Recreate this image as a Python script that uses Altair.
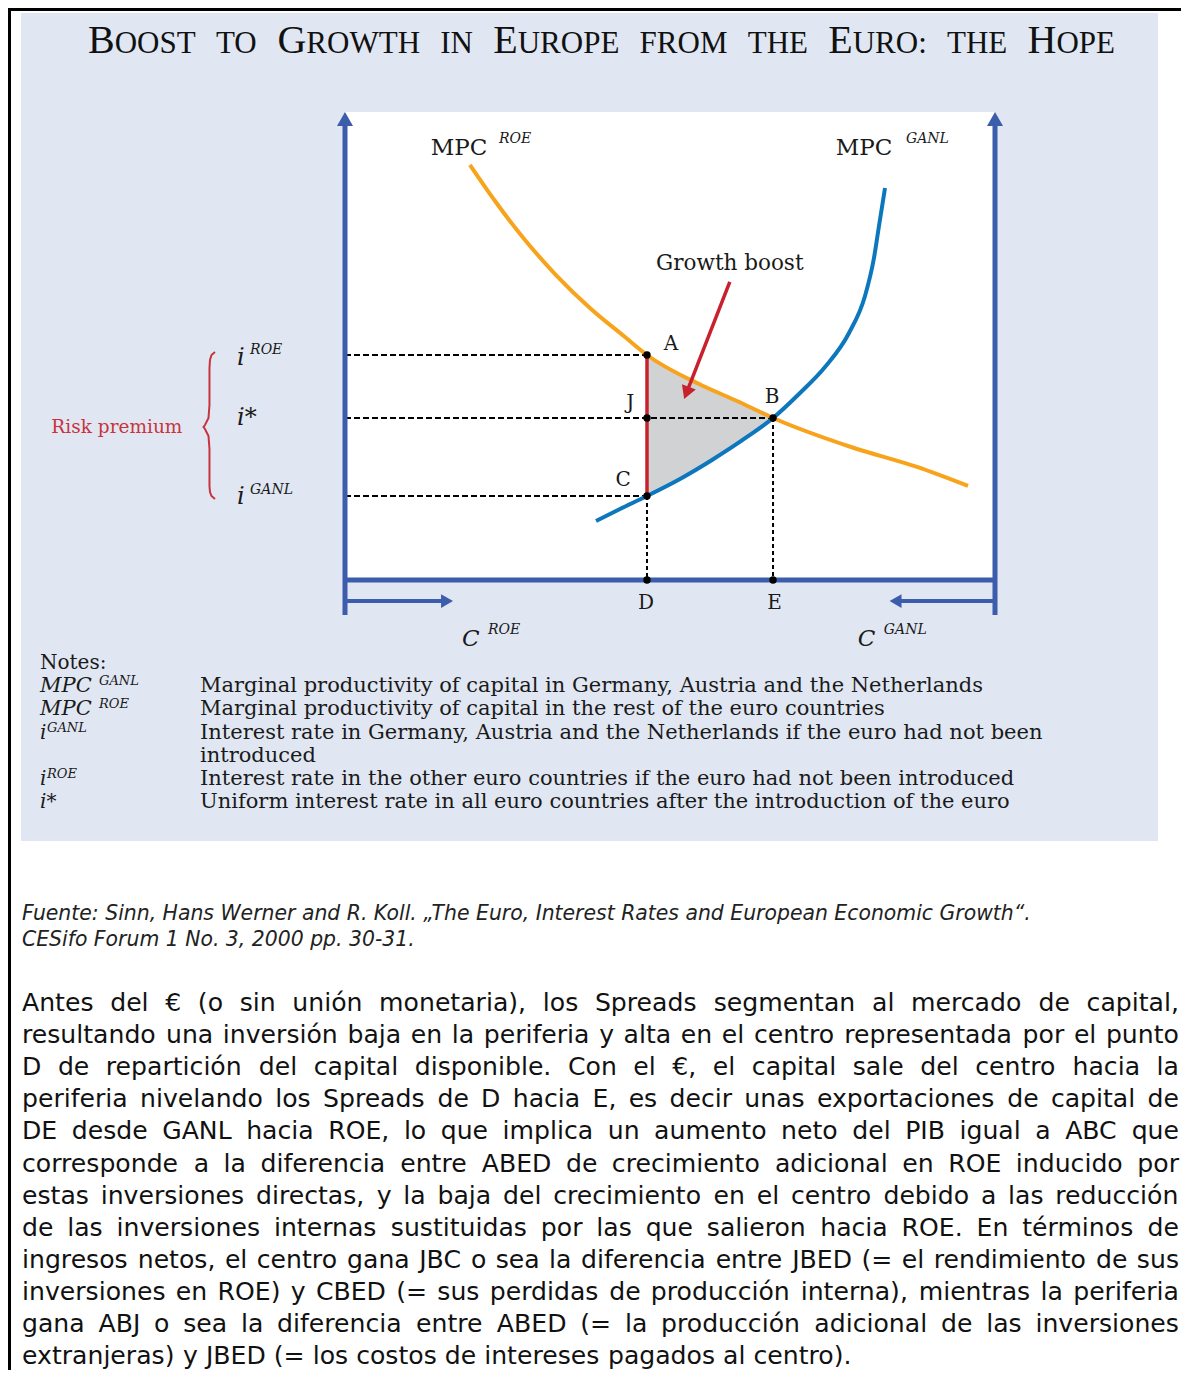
import unicodedata
import altair as alt
import pandas as pd

W, H = 1173, 1362
OX, OY = 8, 8  # page margin: reference pixel -> plot pixel

# ---------------- diagram values (diagram units: capital 0-100, interest 0-100) ----------------
mpc_roe_x = [19.23, 23.08, 27.69, 32.46, 37.85, 43.08, 46.46, 54.46, 60.31, 65.85, 77.85, 88.0, 95.85]
mpc_roe_y = [88.68, 80.98, 72.65, 65.17, 57.91, 51.92, 48.08, 41.88, 38.25, 34.62, 28.42, 24.15, 20.09]
mpc_ganl_x = [38.62, 42.31, 46.46, 51.54, 56.46, 61.85, 65.85, 70.0, 73.85, 77.54, 80.0, 81.38, 82.15, 83.08]
mpc_ganl_y = [12.61, 15.17, 17.95, 21.58, 25.64, 30.56, 34.62, 39.96, 45.51, 52.78, 60.68, 68.8, 75.64, 83.76]

i_roe, i_star, i_ganl = 48.08, 34.62, 17.95
c_d, c_e = 46.46, 65.85

point_names = ["A", "J", "B", "C", "D", "E"]
point_x = [c_d, c_d, c_e, c_d, c_d, c_e]
point_y = [i_roe, i_star, i_star, i_ganl, 0.0, 0.0]

boost_y = [17.95, 21.58, 25.64, 30.56, 34.62, 38.25, 41.88, 48.08]
boost_x = [46.46, 51.54, 56.46, 61.85, 65.85, 60.31, 54.46, 46.46]

arrow_x = [59.2, 52.54]
arrow_y = [63.7, 39.98]
arrow_angle = 201.3

brace_x = [-20.0, -20.54, -20.77, -20.85, -20.85, -21.0, -21.54, -21.77, -21.54, -21.0, -20.85, -20.85, -20.77, -20.54, -20.0]
brace_y = [48.72, 48.08, 47.01, 45.30, 37.39, 34.62, 33.12, 32.69, 32.26, 30.77, 27.99, 20.09, 18.80, 17.95, 17.31]

# labels inside diagram space
center_lbl = ["A", "J", "B", "C", "D", "E", "Growth boost"]
center_lbl_x = [50.15, 43.9, 65.7, 42.8, 46.3, 66.1, 59.2]
center_lbl_y = [50.43, 37.8, 39.1, 21.4, -4.9, -4.9, 67.5]
center_lbl_fs = [20, 20, 20, 20, 20, 20, 21.5]

mpc_lbl = ["MPC", "MPC"]
mpc_lbl_x = [13.2, 75.5]
mpc_lbl_y = [92.3, 92.3]

ital_lbl = ["ROE", "GANL", "C", "ROE", "C", "GANL", "i", "ROE", "i*", "i", "GANL"]
ital_lbl_x = [23.7, 86.3, 18.0, 22.0, 78.9, 82.9, -16.6, -14.6, -16.6, -16.6, -14.6]
ital_lbl_y = [94.3, 94.3, -12.6, -10.7, -12.6, -10.7, 47.4, 49.1, 34.6, 17.7, 19.2]
ital_lbl_fs = [14, 14, 23, 14, 23, 14, 24, 14, 24, 24, 14]

risk_lbl = ["Risk premium"]
risk_lbl_x = [-35.1]
risk_lbl_y = [32.7]

# ---------------- page texts ----------------
title_words = ["Boost", "to", "Growth", "in", "Europe", "from", "the", "Euro:", "the", "Hope"]

notes_head = "Notes:"
notes_sym = [("MPC", "GANL"), ("MPC", "ROE"), ("i", "GANL"), ("i", "ROE"), ("i*", "")]
notes_desc = [
    "Marginal productivity of capital in Germany, Austria and the Netherlands",
    "Marginal productivity of capital in the rest of the euro countries",
    "Interest rate in Germany, Austria and the Netherlands if the euro had not been",
    "introduced",
    "Interest rate in the other euro countries if the euro had not been introduced",
    "Uniform interest rate in all euro countries after the introduction of the euro",
]

source_lines = [
    "Fuente: Sinn, Hans Werner and R. Koll. \u201eThe Euro, Interest Rates and European Economic Growth\u201c.",
    "CESifo Forum 1 No. 3, 2000 pp. 30-31.",
]

paragraph = [
    "Antes del \u20ac (o sin unión monetaria), los Spreads segmentan al mercado de capital,",
    "resultando una inversión baja en la periferia y alta en el centro representada por el punto",
    "D de repartición del capital disponible. Con el \u20ac, el capital sale del centro hacia la",
    "periferia nivelando los Spreads de D hacia E, es decir unas exportaciones de capital de",
    "DE desde GANL hacia ROE, lo que implica un aumento neto del PIB igual a ABC que",
    "corresponde a la diferencia entre ABED de crecimiento adicional en ROE inducido por",
    "estas inversiones directas, y la baja del crecimiento en el centro debido a las reducción",
    "de las inversiones internas sustituidas por las que salieron hacia ROE. En términos de",
    "ingresos netos, el centro gana JBC o sea la diferencia entre JBED (= el rendimiento de sus",
    "inversiones en ROE) y CBED (= sus perdidas de producción interna), mientras la periferia",
    "gana ABJ o sea la diferencia entre ABED (= la producción adicional de las inversiones",
    "extranjeras) y JBED (= los costos de intereses pagados al centro).",
]

# ---------------- font metrics for layout ----------------
TNR = {'A': 722, 'B': 667, 'C': 667, 'D': 722, 'E': 611, 'F': 556, 'G': 722, 'H': 722, 'I': 333,
       'M': 889, 'N': 722, 'O': 722, 'P': 556, 'R': 667, 'S': 556, 'T': 611, 'U': 722, 'W': 944,
       ':': 278, ' ': 250}
DV = dict(zip("abcdefghijklmnopqrstuvwxyz",
              [1255, 1300, 1126, 1300, 1260, 721, 1300, 1298, 569, 569, 1186, 569, 1995, 1298, 1253,
               1300, 1300, 842, 1067, 803, 1298, 1212, 1675, 1212, 1212, 1075]))
DV.update(dict(zip("ABCDEFGHIJKLMNOPQRSTUVWXYZ",
                   [1401, 1405, 1430, 1577, 1294, 1178, 1587, 1540, 604, 604, 1343, 1141, 1767, 1532,
                    1612, 1235, 1612, 1423, 1300, 1251, 1499, 1401, 2025, 1403, 1251, 1403])))
DV.update({' ': 651, ',': 651, '.': 651, '(': 799, ')': 799, '=': 1716, '\u20ac': 1303, ':': 690,
           '-': 739, '\u201e': 844, '\u201c': 844})
for d in "0123456789":
    DV[d] = 1303


def dv_units(s):
    tot = 0
    for c in s:
        b = unicodedata.normalize("NFD", c)[0]
        tot += DV.get(c, DV.get(b, 1200))
    return tot


# ---------------- encodings ----------------
XS = alt.Scale(domain=[0, 100], range=[345 - OX, 995 - OX], nice=False, zero=False)
YS = alt.Scale(domain=[0, 100], range=[580 - OY, 112 - OY], nice=False, zero=False)


def gx(f="x"):
    return alt.X(f"{f}:Q", scale=XS, axis=None)


def gy(f="y"):
    return alt.Y(f"{f}:Q", scale=YS, axis=None)


def px(f="x"):
    return alt.X(f"{f}:Q", scale=None, axis=None)


def py(f="y"):
    return alt.Y(f"{f}:Q", scale=None, axis=None)


FS = alt.Size("fs:Q", scale=None, legend=None)


def text_layer(df, pixel, **mark):
    return alt.Chart(df).mark_text(**mark).encode(
        x=px() if pixel else gx(), y=py() if pixel else gy(), text="t:N", size=FS)


layers = []
one = pd.DataFrame({"k": [0]})

# page frame lines and figure panel
layers.append(alt.Chart(one).mark_rule(color="black", strokeWidth=3).encode(
    x=alt.value(0), x2=alt.value(W), y=alt.value(1.5)))
layers.append(alt.Chart(one).mark_rule(color="black", strokeWidth=3).encode(
    x=alt.value(1.5), y=alt.value(0), y2=alt.value(H)))
layers.append(alt.Chart(one).mark_rect(color="#e0e7f3").encode(
    x=alt.value(21 - OX), x2=alt.value(1158 - OX), y=alt.value(13 - OY), y2=alt.value(841 - OY)))

# white plot area
frame = pd.DataFrame({"x": [0], "x2": [100], "y": [0], "y2": [100]})
layers.append(alt.Chart(frame).mark_rect(color="white").encode(
    x=gx(), x2=alt.X2("x2"), y=gy(), y2=alt.Y2("y2")))

# growth boost area
area_df = pd.DataFrame({"y": boost_y, "x": boost_x, "x0": [c_d] * len(boost_y)})
layers.append(alt.Chart(area_df).mark_area(orient="horizontal", color="#d1d2d4", interpolate="monotone").encode(
    y=gy(), x=gx(), x2=alt.X2("x0")))

# dashed guide lines
hd = pd.DataFrame({"x": [0, 0, 0], "x2": [c_d, c_e, c_d], "y": [i_roe, i_star, i_ganl]})
layers.append(alt.Chart(hd).mark_rule(color="black", strokeWidth=2, strokeDash=[6, 3]).encode(
    x=gx(), x2=alt.X2("x2"), y=gy()))
vd = pd.DataFrame({"x": [c_d, c_e], "y": [i_ganl, i_star], "y2": [0, 0]})
layers.append(alt.Chart(vd).mark_rule(color="black", strokeWidth=2, strokeDash=[4, 3]).encode(
    x=gx(), y=gy(), y2=alt.Y2("y2")))

# curves
roe_df = pd.DataFrame({"x": mpc_roe_x, "y": mpc_roe_y})
layers.append(alt.Chart(roe_df).mark_line(color="#f8a31c", strokeWidth=4, interpolate="monotone").encode(
    x=gx(), y=gy()))
ganl_df = pd.DataFrame({"x": mpc_ganl_x, "y": mpc_ganl_y})
layers.append(alt.Chart(ganl_df).mark_line(color="#0c77bd", strokeWidth=4, interpolate="monotone").encode(
    x=gx(), y=gy()))

# red segment A-C
ac = pd.DataFrame({"x": [c_d], "y": [i_ganl], "y2": [i_roe]})
layers.append(alt.Chart(ac).mark_rule(color="#c8212e", strokeWidth=3.5).encode(
    x=gx(), y=gy(), y2=alt.Y2("y2")))

# growth boost arrow
arr = pd.DataFrame({"x": [arrow_x[0]], "x2": [arrow_x[1]], "y": [arrow_y[0]], "y2": [arrow_y[1]]})
layers.append(alt.Chart(arr).mark_rule(color="#c8212e", strokeWidth=3.5).encode(
    x=gx(), x2=alt.X2("x2"), y=gy(), y2=alt.Y2("y2")))
arrh = pd.DataFrame({"x": [arrow_x[1]], "y": [arrow_y[1]]})
layers.append(alt.Chart(arrh).mark_point(shape="triangle-up", filled=True, size=220, opacity=1,
                                          color="#c8212e", angle=arrow_angle).encode(x=gx(), y=gy()))

# blue axes with arrows
ax_df = pd.DataFrame({"x": [0, 100, 0, 0, 100], "x2": [0, 100, 100, 15.7, 84.7],
                      "y": [-7.5, -7.5, 0, -4.5, -4.5], "y2": [98.5, 98.5, 0, -4.5, -4.5],
                      "w": [5, 5, 5, 4, 4]})
layers.append(alt.Chart(ax_df).mark_rule(color="#3b5dab").encode(
    x=gx(), x2=alt.X2("x2"), y=gy(), y2=alt.Y2("y2"),
    strokeWidth=alt.StrokeWidth("w:Q", scale=None, legend=None)))
heads = pd.DataFrame({"x": [0, 100, 15.7, 84.7], "y": [98.5, 98.5, -4.5, -4.5],
                      "shp": ["triangle-up", "triangle-up", "triangle-right", "triangle-left"],
                      "fs": [256, 256, 190, 190]})
layers.append(alt.Chart(heads).mark_point(filled=True, opacity=1, color="#3b5dab").encode(
    x=gx(), y=gy(), shape=alt.Shape("shp:N", scale=None, legend=None),
    size=alt.Size("fs:Q", scale=None, legend=None)))

# points
pts = pd.DataFrame({"x": point_x, "y": point_y, "n": point_names})
layers.append(alt.Chart(pts).mark_circle(color="black", size=55, opacity=1).encode(x=gx(), y=gy()))

# brace
br = pd.DataFrame({"x": brace_x, "y": brace_y, "o": list(range(len(brace_x)))})
layers.append(alt.Chart(br).mark_line(color="#c8343c", strokeWidth=2, interpolate="linear").encode(
    x=gx(), y=gy(), order="o:Q"))

# diagram labels
layers.append(text_layer(pd.DataFrame({"x": center_lbl_x, "y": center_lbl_y, "t": center_lbl, "fs": center_lbl_fs}),
                         False, font="DejaVu Serif", align="center", baseline="middle", color="#1a1a1a"))
layers.append(text_layer(pd.DataFrame({"x": mpc_lbl_x, "y": mpc_lbl_y, "t": mpc_lbl, "fs": [23, 23]}),
                         False, font="DejaVu Serif", align="left", baseline="middle", color="#1a1a1a"))
layers.append(text_layer(pd.DataFrame({"x": ital_lbl_x, "y": ital_lbl_y, "t": ital_lbl, "fs": ital_lbl_fs}),
                         False, font="DejaVu Serif", fontStyle="italic", align="left", baseline="middle",
                         color="#1a1a1a"))
layers.append(text_layer(pd.DataFrame({"x": risk_lbl_x, "y": risk_lbl_y, "t": risk_lbl, "fs": [18.5]}),
                         False, font="DejaVu Serif", align="center", baseline="middle", color="#c8343c"))

# ---------------- title (small caps built from runs) ----------------
SB, SS = 40, 31
T_L, T_R, T_BASE = 88, 1115, 53
pieces = []
for w in title_words:
    parts = []
    rest = w
    if w[0].isupper():
        parts.append((w[0], SB))
        rest = w[1:]
    if rest:
        parts.append((rest.upper(), SS))
    pieces.append(parts)
natural = sum(sum(TNR[c] for c in t) * s / 1000 for parts in pieces for t, s in parts)
gap = (T_R - T_L - natural) / (len(pieces) - 1)
rows = []
cur = T_L
for parts in pieces:
    for t, s in parts:
        rows.append({"x": cur - OX, "y": T_BASE - OY, "t": t, "fs": s})
        cur += sum(TNR[c] for c in t) * s / 1000
    cur += gap
layers.append(text_layer(pd.DataFrame(rows), True, font="Liberation Serif", align="left",
                         baseline="alphabetic", color="#111111"))

# ---------------- notes ----------------
NOTE_FS = 21
n_rows = [{"x": 40 - OX, "y": 663 - OY, "t": notes_head, "fs": 20}]
desc_y = [686, 709, 733, 756, 779, 802]
for t, yy in zip(notes_desc, desc_y):
    n_rows.append({"x": 200 - OX, "y": yy - OY, "t": t, "fs": NOTE_FS})
layers.append(text_layer(pd.DataFrame(n_rows), True, font="DejaVu Serif", align="left", baseline="middle",
                         color="#1a1a1a"))
sym_y = [686, 709, 733, 779, 802]
s_rows = []
for (base, sup), yy in zip(notes_sym, sym_y):
    s_rows.append({"x": 40 - OX, "y": yy - OY, "t": base, "fs": 21 if base == "MPC" else 20})
    if sup:
        sx = 99 if base == "MPC" else 47
        s_rows.append({"x": sx - OX, "y": yy - 5 - OY, "t": sup, "fs": 13})
layers.append(text_layer(pd.DataFrame(s_rows), True, font="DejaVu Serif", fontStyle="italic", align="left",
                         baseline="middle", color="#1a1a1a"))

# ---------------- source ----------------
src_rows = [{"x": 22 - OX, "y": yy - OY, "t": t, "fs": 20.4} for t, yy in zip(source_lines, [914, 940])]
layers.append(text_layer(pd.DataFrame(src_rows), True, font="DejaVu Sans", fontStyle="italic", align="left",
                         baseline="middle", color="#222222"))

# ---------------- justified paragraph ----------------
P_L, P_R, P_Y0, P_DY = 22, 1179, 1003, 32.1
fpar = 0.98 * min((P_R - P_L) * 2048 / dv_units(line) for line in paragraph[:-1])
p_rows = []
for k, line in enumerate(paragraph):
    words = line.split(" ")
    wpx = [dv_units(w) * fpar / 2048 for w in words]
    if k < len(paragraph) - 1:
        g = (P_R - P_L - sum(wpx)) / (len(words) - 1)
    else:
        g = DV[" "] * fpar / 2048
    cur = P_L
    for w, ww in zip(words, wpx):
        p_rows.append({"x": cur - OX, "y": P_Y0 + k * P_DY - OY, "t": w, "fs": fpar})
        cur += ww + g
layers.append(text_layer(pd.DataFrame(p_rows), True, font="DejaVu Sans", align="left", baseline="middle",
                         color="#111111"))

chart = (
    alt.layer(*layers)
    .resolve_scale(x="independent", y="independent")
    .properties(width=W, height=H, background="white", padding=0,
                autosize=alt.AutoSizeParams(type="none"))
    .configure_view(stroke=None)
)
chart.save("out.html", embed_options={"renderer": "svg", "actions": False})
